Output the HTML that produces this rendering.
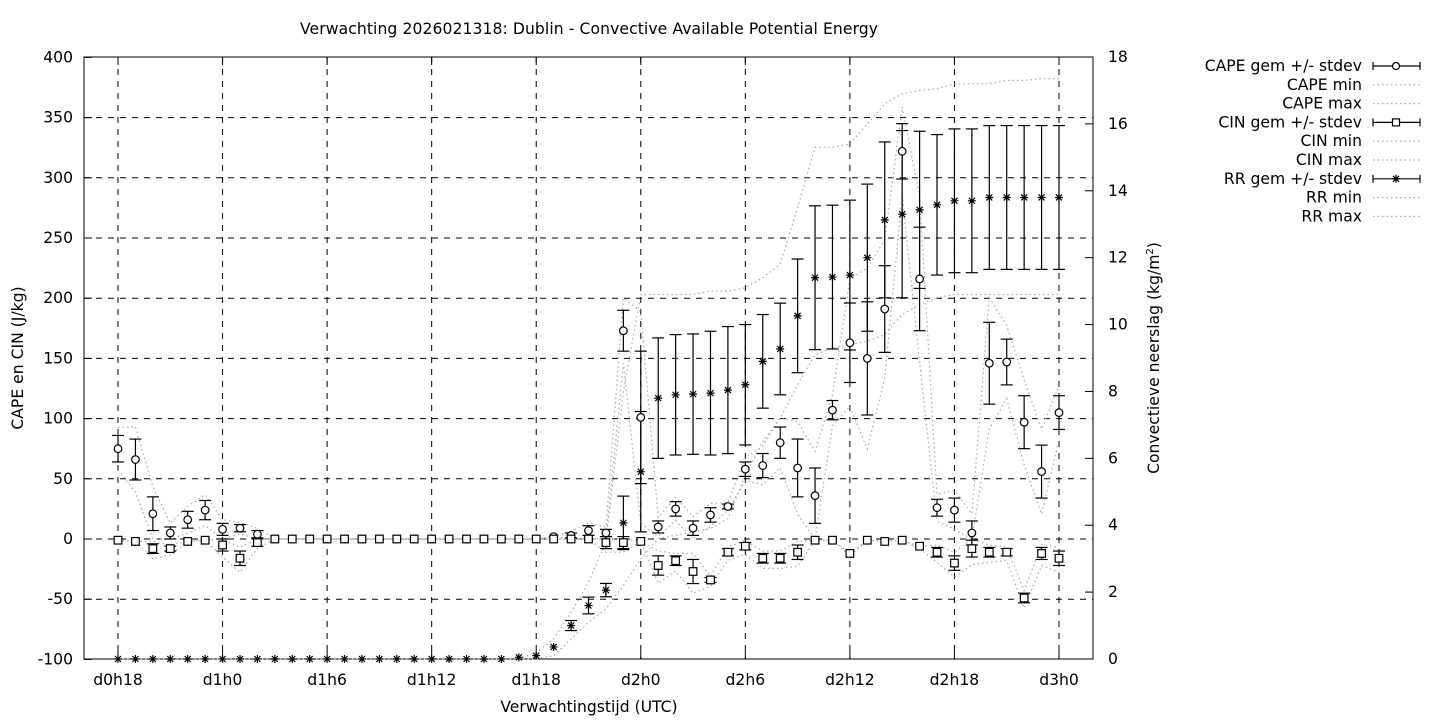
<!DOCTYPE html>
<html><head><meta charset="utf-8"><style>
html,body{margin:0;padding:0;background:#fff;}
svg{display:block;font-family:"DejaVu Sans","Liberation Sans",sans-serif;}
</style></head><body>
<svg id="s" width="1440" height="720" xmlns="http://www.w3.org/2000/svg"></svg>
<script>
const S=document.getElementById('s');let h='';
const L=84,R=1093,T=57,B=659;
const X=i=>118+i*(941/54);
const Y=v=>539-v*1.204;
const YR=v=>659-v*(602/18);
h+='<g stroke="#000" stroke-width="1" stroke-dasharray="6,6" fill="none">';
for(let v=-50;v<=350;v+=50)h+=`<line x1="${L}" x2="${R}" y1="${Y(v)}" y2="${Y(v)}"/>`;
for(let k=0;k<=9;k++){const x=X(k*6);h+=`<line x1="${x}" x2="${x}" y1="${T}" y2="${B}"/>`;}
h+='</g>';
h+='<g stroke="#000" stroke-width="1">';
for(let v=-100;v<=400;v+=50){const y=Y(v);h+=`<line x1="${L}" x2="${L+8}" y1="${y}" y2="${y}"/>`;}
for(let v=0;v<=18;v+=2){const y=YR(v);h+=`<line x1="${R-8}" x2="${R}" y1="${y}" y2="${y}"/>`;}
for(let k=0;k<=9;k++){const x=X(k*6);h+=`<line x1="${x}" x2="${x}" y1="${B}" y2="${B-8}"/><line x1="${x}" x2="${x}" y1="${T}" y2="${T+8}"/>`;}
h+='</g>';
h+=`<rect x="${L}" y="${T}" width="${R-L}" height="${B-T}" fill="none" stroke="#000" stroke-width="1"/>`;
h+='<g font-size="15.6" fill="#000">';
for(let v=-100;v<=400;v+=50)h+=`<text x="73" y="${Y(v)+5}" text-anchor="end">${v}</text>`;
for(let v=0;v<=18;v+=2)h+=`<text x="1108" y="${YR(v)+5}">${v}</text>`;
const xl=['d0h18','d1h0','d1h6','d1h12','d1h18','d2h0','d2h6','d2h12','d2h18','d3h0'];
xl.forEach((t,k)=>h+=`<text x="${X(k*6)}" y="685" text-anchor="middle">${t}</text>`);
h+=`<text x="589" y="34" text-anchor="middle" textLength="578">Verwachting 2026021318: Dublin - Convective Available Potential Energy</text>`;
h+=`<text x="589" y="712" text-anchor="middle">Verwachtingstijd (UTC)</text>`;
h+=`<text transform="translate(23,358) rotate(-90)" text-anchor="middle">CAPE en CIN (J/kg)</text>`;
h+=`<text transform="translate(1159,358) rotate(-90)" text-anchor="middle">Convectieve neerslag (kg/m<tspan font-size="10" dy="-6">2</tspan><tspan dy="6">)</tspan></text>`;
h+='</g>';
const N=55;
const cape=new Array(N).fill(0),capeS=new Array(N).fill(0);
[[75,11],[66,17],[21,14],[5,5],[16,7],[24,8],[8,5],[9,3],[4,3]].forEach((a,i)=>{cape[i]=a[0];capeS[i]=a[1];});
cape[25]=2;cape[26]=3;capeS[26]=2;cape[27]=7;capeS[27]=4;cape[28]=5;capeS[28]=3;
const c2=[[173,17],[101,55],[10,5],[25,6],[9,6],[20,6],[27,2],[58,6],[61,10],[80,13],[59,24],[36,23],[107,8],[163,33],[150,47],[191,36],[322,23],[216,43],[26,7],[24,10],[5,10],[146,34],[147,19],[97,22],[56,22],[105,14]];
c2.forEach((a,k)=>{cape[29+k]=a[0];capeS[29+k]=a[1];});
const cin=new Array(N).fill(0),cinS=new Array(N).fill(0);
[[-1,0],[-2,0],[-8,4],[-8,2],[-2,0],[-1,0],[-5,5],[-16,6],[-3,3]].forEach((a,i)=>{cin[i]=a[0];cinS[i]=a[1];});
cin[28]=-3;cinS[28]=5;cin[29]=-3;cinS[29]=5;cin[30]=-2;
const n2=[[-22,8],[-18,4],[-27,10],[-34,2],[-11,3],[-6,3],[-16,4],[-16,4],[-11,6],[-1,0],[-1,0],[-12,0],[-1,0],[-2,0],[-1,0],[-6,0],[-11,4],[-20,6],[-8,7],[-11,4],[-11,3],[-49,4],[-12,5],[-16,6]];
n2.forEach((a,k)=>{cin[31+k]=a[0];cinS[31+k]=a[1];});
const rr=new Array(N).fill(0),rrS=new Array(N).fill(0);
rr[23]=0.05;rr[24]=0.1;rr[25]=0.36;rr[26]=1.0;rrS[26]=0.15;rr[27]=1.6;rrS[27]=0.25;rr[28]=2.06;rrS[28]=0.2;
const r2=[[4.07,0.8],[5.6,1.8],[7.8,1.8],[7.9,1.8],[7.92,1.8],[7.95,1.85],[8.04,1.9],[8.2,1.8],[8.9,1.4],[9.27,1.37],[10.26,1.7],[11.4,2.15],[11.42,2.15],[11.48,2.24],[12.0,2.2],[13.13,2.33],[13.3,2.5],[13.43,2.35],[13.58,2.1],[13.7,2.15],[13.7,2.15],[13.8,2.15],[13.8,2.15],[13.8,2.15],[13.8,2.15],[13.8,2.15]];
r2.forEach((a,k)=>{rr[29+k]=a[0];rrS[29+k]=a[1];});
function poly(arr,f){return arr.map((v,i)=>`${X(i).toFixed(1)},${f(v).toFixed(1)}`).join(' ');}
const gray='stroke="#aaa" stroke-width="1.2" stroke-dasharray="1.5,3" fill="none"';
h+=`<polyline ${gray} points="${poly(cape.map((v,i)=>v+capeS[i]*1.6),Y)}"/>`;
h+=`<polyline ${gray} points="${poly(cape.map((v,i)=>Math.max(0,v-capeS[i]*1.6)),Y)}"/>`;
h+=`<polyline ${gray} points="${poly(cin.map((v,i)=>Math.min(0,v+cinS[i]*1.5)),Y)}"/>`;
h+=`<polyline ${gray} points="${poly(cin.map((v,i)=>v-cinS[i]*1.6-(v<-3?2:0)),Y)}"/>`;
const rmax=rr.map((v,i)=>{if(i<24)return 0;const m={24:0.2,25:0.6,26:1.4,27:2.3,28:3.5,29:8,30:10.9,31:10.9,32:10.9,33:10.9,34:11,35:11,36:11.1,37:11.4,38:11.8,39:13.5,40:15.3,41:15.3,42:15.4,43:16,44:16.6,45:16.9,46:17,47:17.05,48:17.2,49:17.2,50:17.2,51:17.3,52:17.3,53:17.35,54:17.35};return m[i];});
const rmin=rr.map((v,i)=>{if(i<25)return 0;const m={25:0.1,26:0.6,27:1.1,28:1.5,29:2.2,30:3.0,31:3.6,32:3.7,33:3.8,34:3.9,35:4.2,36:5.5,37:6.5,38:7.2,39:8.2,40:9.1,41:9.3,42:9.4,43:9.5,44:9.7,45:10.3,46:10.6,47:10.8,48:10.9,49:10.9,50:10.9,51:10.9,52:10.9,53:10.9,54:10.9};return m[i];});
h+=`<polyline ${gray} points="${poly(rmax,YR)}"/>`;
h+=`<polyline ${gray} points="${poly(rmin,YR)}"/>`;
h+='<g stroke="#000" stroke-width="1.2" fill="none">';
function eb(x,y1,y2){if(Math.abs(y2-y1)<2)return '';return `<line x1="${x}" x2="${x}" y1="${y1}" y2="${y2}"/><line x1="${x-6}" x2="${x+6}" y1="${y1}" y2="${y1}"/><line x1="${x-6}" x2="${x+6}" y1="${y2}" y2="${y2}"/>`;}
for(let i=0;i<N;i++){const x=X(i);
 h+=eb(x,Y(cape[i]+capeS[i]),Y(cape[i]-capeS[i]));
 h+=eb(x,Y(cin[i]+cinS[i]),Y(cin[i]-cinS[i]));
 h+=eb(x,YR(rr[i]+rrS[i]),YR(rr[i]-rrS[i]));
}
for(let i=0;i<N;i++){const x=X(i);
 h+=`<circle cx="${x}" cy="${Y(cape[i])}" r="3.8" fill="#fff"/>`;
 const yc=Y(cin[i]);h+=`<rect x="${x-3.8}" y="${yc-3.8}" width="7.6" height="7.6" fill="#fff"/>`;
 const yr=YR(rr[i]);h+=`<path d="M${x-4},${yr}h8M${x},${yr-4}v8M${x-3},${yr-3}l6,6M${x-3},${yr+3}l6,-6"/>`;
}
h+='</g>';
const lg=['CAPE gem +/- stdev','CAPE min','CAPE max','CIN gem +/- stdev','CIN min','CIN max','RR gem +/- stdev','RR min','RR max'];
h+='<g font-size="15.6" fill="#000">';
lg.forEach((t,k)=>{const y=66+k*18.8;h+=`<text x="1362" y="${y+5}" text-anchor="end">${t}</text>`;});
h+='</g><g stroke="#000" stroke-width="1.2" fill="none">';
lg.forEach((t,k)=>{const y=66+k*18.8;
 if(k%3==0){h+=`<line x1="1373" x2="1420" y1="${y}" y2="${y}"/><line x1="1373" x2="1373" y1="${y-4}" y2="${y+4}"/><line x1="1420" x2="1420" y1="${y-4}" y2="${y+4}"/>`;
  if(k==0)h+=`<circle cx="1396" cy="${y}" r="3.5" fill="#fff"/>`;
  if(k==3)h+=`<rect x="1392.5" y="${y-3.5}" width="7" height="7" fill="#fff"/>`;
  if(k==6)h+=`<path d="M1392,${y}h8M1396,${y-4}v8M1393,${y-3}l6,6M1393,${y+3}l6,-6"/>`;
 } else h+=`<line x1="1373" x2="1420" y1="${y}" y2="${y}" stroke="#aaa" stroke-dasharray="1.5,3"/>`;
});
h+='</g>';
S.innerHTML=h;
</script>
</body></html>
